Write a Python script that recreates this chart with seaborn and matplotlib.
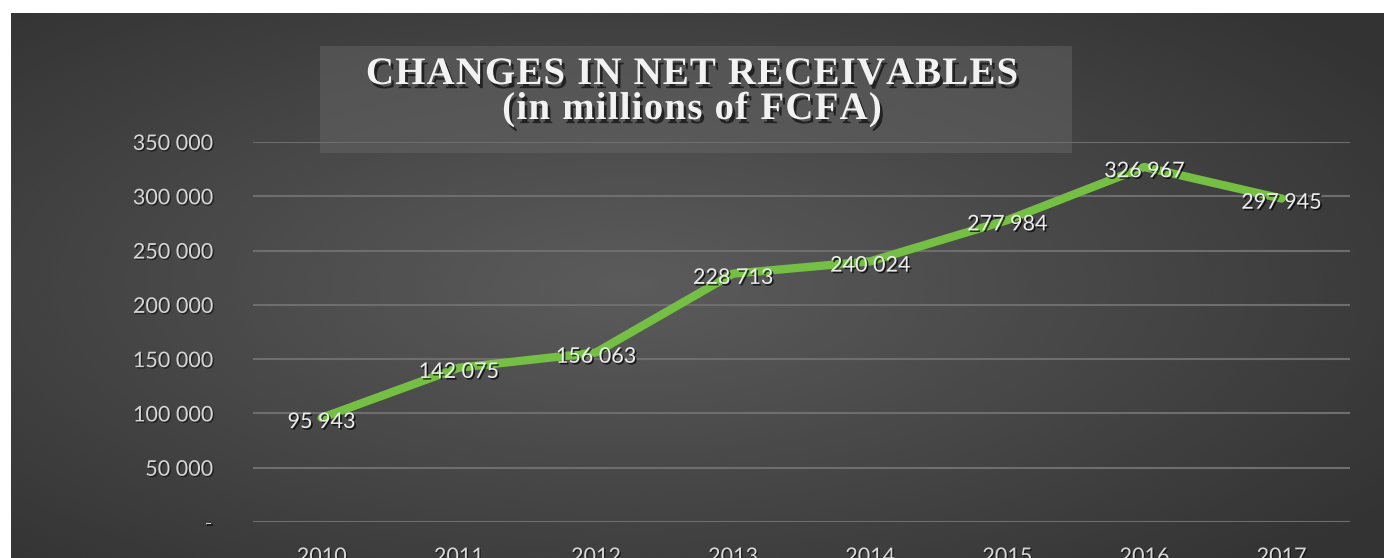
import numpy as np
import pandas as pd
import matplotlib
matplotlib.use("Agg")
import matplotlib.pyplot as plt
import matplotlib.patheffects as pe
import seaborn as sns

years = ["2010", "2011", "2012", "2013", "2014", "2015", "2016", "2017"]
receivables = [95943, 142075, 156063, 228713, 240024, 277984, 326967, 297945]
y_ticks = [0, 50000, 100000, 150000, 200000, 250000, 300000, 350000]
y_tick_labels = ["-", "50 000", "100 000", "150 000", "200 000", "250 000", "300 000", "350 000"]
title_lines = ["CHANGES IN NET RECEIVABLES", "(in millions of FCFA)"]

df = pd.DataFrame({"year": years, "value": receivables})

sns.set_theme(style="white")
plt.rcParams["font.family"] = ["Lato", "DejaVu Sans"]

W, H, DPI = 1384, 558, 100
fig = plt.figure(figsize=(W / DPI, H / DPI), dpi=DPI, facecolor="white")

# dark radial-gradient panel
bg = fig.add_axes([11 / W, 0, 1 - 11 / W, (H - 13) / H])
bg.set_axis_off()
gx = np.linspace(-1, 1, 600)
gy = np.linspace(-1, 1, 300)
X, Y = np.meshgrid(gx, gy)
R = np.sqrt(((X + 0.1) * 0.95) ** 2 + (Y * 0.9) ** 2)
shade = 0.36 - 0.16 * np.clip(R, 0, 1.3) / 1.3
bg.imshow(shade, cmap="gray", vmin=0, vmax=1, aspect="auto",
          extent=[0, 1, 0, 1], interpolation="bicubic")
bg.set_xlim(0, 1)
bg.set_ylim(0, 1)

# overlay in pixel coordinates for the title block
box_ax = fig.add_axes([0, 0, 1, 1], facecolor="none")
box_ax.set_axis_off()
box_ax.set_xlim(0, W)
box_ax.set_ylim(H, 0)
box_ax.add_patch(plt.Rectangle((320, 46), 752, 107, facecolor="#6a6a6a",
                               alpha=0.45, edgecolor="none"))

# plot area
left, right, top, bottom = 253, 1350, 142, 522
ax = fig.add_axes([left / W, (H - bottom) / H, (right - left) / W, (bottom - top) / H],
                  facecolor="none")
sns.lineplot(data=df, x="year", y="value", ax=ax, color="#74bf44",
             linewidth=6, sort=False, zorder=3)
ax.set_ylim(0, 350000)
ax.set_xlim(-0.5, len(years) - 0.5)
ax.set_yticks(y_ticks)
ax.set_yticklabels(y_tick_labels)
ax.set_xticks(range(len(years)))
ax.set_xticklabels(years)
ax.yaxis.grid(True, color="#6e6e6e", linewidth=1.5)
ax.set_axisbelow(True)
for s in ax.spines.values():
    s.set_visible(False)
ax.set_xlabel("")
ax.set_ylabel("")
ax.tick_params(axis="both", length=0, colors="#d6d6d6", labelsize=15.5)
ax.tick_params(axis="y", pad=29)
ax.tick_params(axis="x", pad=18)
for lab in ax.get_xticklabels() + ax.get_yticklabels():
    lab.set_path_effects([pe.withSimplePatchShadow(offset=(1, -1), alpha=0.5,
                                                   shadow_rgbFace="black")])

shadow = [pe.withSimplePatchShadow(offset=(1.2, -1.2), alpha=0.7, shadow_rgbFace="black")]
for i, v in enumerate(receivables):
    ax.annotate(f"{v:,}".replace(",", " "), (i, v), xytext=(0, -3),
                textcoords="offset points", ha="center", va="center",
                fontsize=15.5, color="#ececec", zorder=4, path_effects=shadow)

# spaced serif title, laid out one character at a time on a shared baseline
renderer = fig.canvas.get_renderer()
tshadow = [pe.withSimplePatchShadow(offset=(2, -3), alpha=0.6, shadow_rgbFace="black")]
title_kw = dict(fontsize=28, fontweight="bold", family="Liberation Serif",
                color="#f2f2f2", va="baseline", ha="left")
spacing = 1.2
for line, baseline in zip(title_lines, [84, 119]):
    widths = []
    for ch in line:
        t = box_ax.text(0, 0, ch if ch != " " else "\u00a0", **title_kw)
        widths.append(t.get_window_extent(renderer).width)
        t.remove()
    total = sum(widths) + spacing * (len(line) - 1)
    x = 692 - total / 2
    for ch, w in zip(line, widths):
        if ch != " ":
            box_ax.text(x, baseline, ch, path_effects=tshadow, **title_kw)
        x += w + spacing

fig.savefig("out.png", dpi=DPI, facecolor="white")
